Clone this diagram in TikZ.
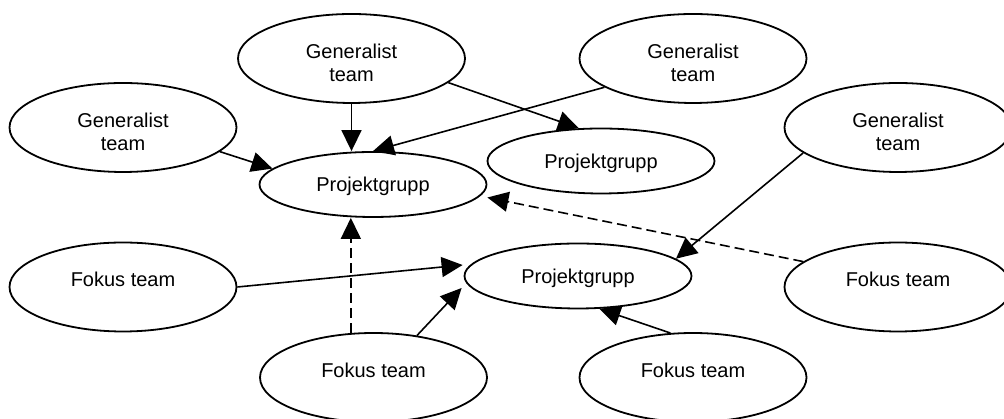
\documentclass[tikz,border=0pt]{standalone}
\usepackage{fontspec}
\setmainfont{Liberation Sans}
\usetikzlibrary{shapes.geometric,arrows.meta,calc}

\tikzset{
  oval/.style={ellipse, draw, line width=1.8pt, minimum width=227pt,
    font=\fontsize{20}{23}\selectfont},
  teambox/.style={oval, minimum height=89pt, text height=10pt, text depth=10pt},
  groupbox/.style={oval, minimum height=65pt, text height=14.3pt, text depth=0pt},
  link/.style={line width=1.6pt, -{Triangle[length=21pt,width=20pt]}},
  weaklink/.style={link, dash pattern=on 10pt off 5pt},
}
\newcommand{\twoline}[2]{\begin{tabular}[t]{@{}c@{}}#1\\#2\end{tabular}}

\begin{document}
\begin{tikzpicture}[x=1pt,y=1pt]
  \useasboundingbox (0,0) rectangle (1004,419);
  \clip (0,0) rectangle (1004,419);

  % generalist teams
  \node[teambox] (g1)  at (351.5,360.5) {\twoline{Generalist}{team}};
  \node[teambox] (gtr) at (693,360.5)   {\twoline{Generalist}{team}};
  \node[teambox] (gl)  at (123,291.5)   {\twoline{Generalist}{team}};
  \node[teambox] (gr)  at (898,291.5)   {\twoline{Generalist}{team}};

  % project groups
  \node[groupbox] (p1) at (373,234.5) {Projektgrupp};
  \node[groupbox] (p2) at (601,258)   {Projektgrupp};
  \node[groupbox] (p3) at (578,143)   {Projektgrupp};

  % focus teams
  \node[teambox] (fl)  at (123,132)   {Fokus team};
  \node[teambox] (fr)  at (898,132)   {Fokus team};
  \node[teambox] (fb)  at (373.5,41.5) {Fokus team};
  \node[teambox] (fbr) at (693,41.5)  {Fokus team};

  % solid links
  \draw[link] (g1.south) -- (g1.south |- p1.north);
  \draw[link] (g1.-14) -- (p2.124);
  \draw[link] (gtr.-162) -- (p1.north);
  \draw[link] (gl.-14) -- (p1.171);
  \draw[link] (gr.-165) -- (p3.10.5);
  \draw[link] (fl.east) -- ($(p3.west)+(-1,11)$);
  \draw[link] (fb.44) -- ($(p3.west)+(-2,-12)$);
  \draw[link] (fbr.117) -- (p3.-57);

  % dashed links
  \draw[weaklink] (fr.165.5) -- ($(p1.east)+(0,-13)$);
  \draw[weaklink] (fb.117) -- (fb.117 |- p1.south);
\end{tikzpicture}
\end{document}
